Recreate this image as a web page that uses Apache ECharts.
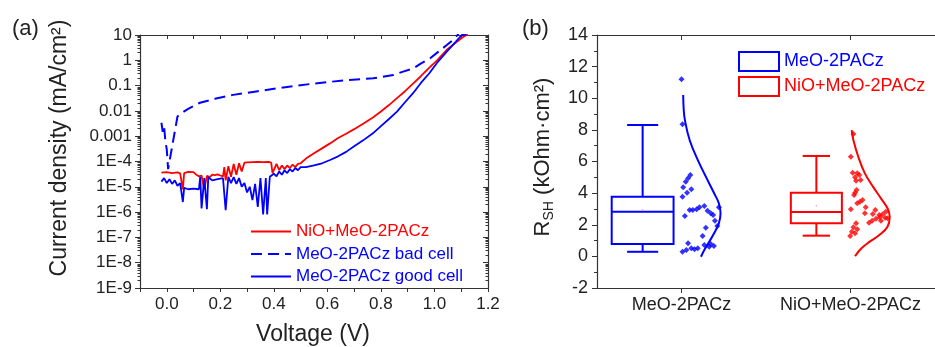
<!DOCTYPE html>
<html><head><meta charset="utf-8">
<script src="https://cdn.jsdelivr.net/npm/echarts@6/dist/echarts.min.js"></script>
<style>html,body{margin:0;padding:0;background:#fff}#c{width:935px;height:347px}</style>
</head><body><div id="c"></div>
<script>
// ---------- Panel (a): J-V curves (log scale) ----------
const voltRed = [-0.02,0.00,0.02,0.04,0.05,0.06,0.065,0.08,0.10,0.11,0.12,0.13,0.14,0.15,0.16,0.17,0.18,0.19,0.20,0.21,0.215,0.22,0.23,0.24,0.25,0.26,0.27,0.28,0.29,0.30,0.32,0.34,0.36,0.38,0.39,0.395,0.40,0.41,0.42,0.43,0.44,0.45,0.46,0.47,0.48,0.49,0.50,0.52,0.55,0.58,0.61,0.64,0.67,0.70,0.735,0.77,0.80,0.83,0.86,0.89,0.92,0.95,0.98,1.01,1.046,1.08,1.108,1.125];
const jRed = [3.6e-5,3.8e-5,3.5e-5,3.7e-5,3.4e-5,8e-6,3.5e-5,3.9e-5,3.8e-5,3.0e-5,2.6e-5,2.8e-5,8e-6,2.7e-5,2.4e-5,3.0e-5,2.9e-5,3.1e-5,2.8e-5,2.6e-5,6e-5,1.8e-5,6.5e-5,2.5e-5,8e-5,3e-5,8.5e-5,4e-5,9e-5,9.2e-5,9.5e-5,9.6e-5,9.4e-5,9.6e-5,9.0e-5,3.5e-5,4e-5,8e-5,4.5e-5,7e-5,5e-5,7e-5,5.5e-5,7.5e-5,6e-5,8e-5,8.5e-5,1.3e-4,2.1e-4,3.3e-4,5.2e-4,8.5e-4,1.25e-3,1.9e-3,3.2e-3,5.5e-3,9.5e-3,1.7e-2,3.2e-2,6e-2,0.12,0.24,0.5,1.0,2.6,5,8.5,10.5];

const voltBad = [-0.02,-0.015,-0.01,-0.005,0.0,0.005,0.04,0.05,0.08,0.124,0.18,0.248,0.34,0.436,0.548,0.672,0.771,0.846,0.88,0.921,0.95,0.984,1.015,1.046,1.07,1.09];
const jBad = [3.4e-3,1.5e-3,2.5e-3,6e-4,3e-4,5e-5,6e-3,7.5e-3,1.2e-2,2.1e-2,3e-2,4.3e-2,6e-2,8.5e-2,0.12,0.165,0.195,0.26,0.35,0.48,0.75,1.2,2.2,4.0,6.5,11];

const voltGood = [-0.02,-0.01,0.00,0.01,0.02,0.03,0.04,0.05,0.06,0.065,0.08,0.10,0.12,0.125,0.13,0.14,0.15,0.155,0.17,0.19,0.21,0.22,0.23,0.24,0.25,0.26,0.27,0.28,0.29,0.30,0.31,0.32,0.33,0.34,0.35,0.36,0.37,0.375,0.385,0.40,0.41,0.42,0.43,0.44,0.45,0.46,0.47,0.48,0.49,0.50,0.52,0.55,0.58,0.61,0.64,0.67,0.70,0.735,0.77,0.80,0.83,0.86,0.89,0.92,0.95,0.98,1.01,1.046,1.08,1.102,1.12];
const jGood = [1.6e-5,2.2e-5,1.4e-5,2.0e-5,1.3e-5,1.8e-5,1.1e-5,1.4e-5,2.5e-6,9e-6,8e-6,8.5e-6,8e-6,2.5e-5,1.4e-6,2.2e-5,1.3e-6,2.4e-5,1.8e-5,2.0e-5,2.2e-5,1.2e-6,2.5e-5,1.4e-5,2.4e-5,1.3e-5,2.2e-5,1.0e-5,1.4e-5,6e-6,1.0e-5,3e-6,1.3e-5,1.6e-6,2.2e-5,8e-7,2.2e-5,8e-7,2.5e-5,3.3e-5,2.6e-5,4e-5,3e-5,4.5e-5,3.5e-5,5e-5,4e-5,5.5e-5,4.5e-5,6e-5,6e-5,7e-5,8.5e-5,1.15e-4,1.6e-4,2.4e-4,4e-4,7e-4,1.3e-3,2.5e-3,4.8e-3,9.3e-3,2.2e-2,5e-2,0.13,0.3,0.8,2.2,5.5,10,10.5];

const seriesNames = ['NiO+MeO-2PACz','MeO-2PACz bad cell','MeO-2PACz good cell'];

// ---------- Panel (b): R_SH statistics ----------
const groups = ['MeO-2PACz','NiO+MeO-2PACz'];
const boxLow  = [0.29, 1.31];
const boxQ1   = [0.78, 2.09];
const boxMed  = [2.82, 2.80];
const boxQ3   = [3.77, 4.03];
const boxHigh = [8.31, 6.35];
const boxMean = [2.95, 3.2];

const blueRsh    = [11.2,8.35,5.15,4.94,4.72,4.37,4.24,4.03,3.77,3.19,3.10,2.98,2.93,2.93,2.89,2.72,2.62,3.10,2.55,2.26,1.92,1.81,1.29,0.83,0.78,0.61,0.72,0.51,0.45,0.51,0.40,0.29,0.65];
const blueJitter = [0.0,0.006,0.052,0.039,0.025,0.01,0.058,0.033,0.006,0.135,0.106,0.09,0.067,0.048,0.154,0.173,0.187,0.221,0.02,0.198,0.212,0.144,0.125,0.039,0.173,0.164,0.135,0.096,0.077,0.058,0.029,0.006,0.192];
const redRsh    = [7.74,6.30,5.29,5.25,5.15,5.0,4.83,4.79,4.20,4.03,3.88,3.56,3.46,3.36,2.98,3.10,2.93,2.72,2.68,2.82,2.66,2.45,2.47,2.38,2.26,2.13,2.26,2.41,2.09,1.84,1.71,1.56,1.46,1.29,2.62];
const redJitter = [0.017,0.002,0.013,0.04,0.052,0.027,0.06,0.033,0.036,0.027,0.021,0.071,0.056,0.04,0.002,0.090,0.147,0.085,0.132,0.209,0.19,0.205,0.174,0.151,0.128,0.11,0.18,0.219,0.033,0.017,0.04,0.008,0.027,-0.002,0.17];

const blueCurveR = [10.2,9.3,8.63,7.36,6.1,5.04,3.99,3.36,2.72,2.09,1.46,0.93,0.40,-0.02];
const blueCurveW = [0.010,0.013,0.020,0.048,0.096,0.144,0.193,0.221,0.231,0.221,0.193,0.164,0.135,0.115];
const redCurveR  = [7.99,7.36,6.30,5.25,4.41,3.67,3.04,2.51,1.88,1.35,0.93,0.51,0.02];
const redCurveW  = [0.007,0.017,0.046,0.085,0.133,0.180,0.219,0.232,0.219,0.171,0.114,0.065,0.027];

// ---------- styling ----------
const FONT = '"Liberation Sans", Arial, sans-serif';
const AX = '#333';
const RED = '#ff0000', BLUE = '#0000ff';
const zip = (a, b) => a.map((v, i) => [v, b[i]]);

const minorLog = [];
for (let e = -9; e < 1; e++) for (let m = 2; m <= 9; m++) minorLog.push(m * Math.pow(10, e));

function logLabel(v) {
  const e = Math.round(Math.log10(v));
  if (e >= 0) return String(Math.pow(10, e));
  if (e >= -3) return Math.pow(10, e).toFixed(-e);
  return '1E' + e;
}

const boxLayout = [
  {off: -0.23, half: 0.183, cap: 0.092, color: BLUE},
  {off: -0.202, half: 0.151, cap: 0.081, color: RED}
];
function boxRender(gi) {
  return function (params, api) {
    const L = boxLayout[gi];
    const c = api.value(0) + L.off;
    const P = (dx, v) => api.coord([c + dx, v]);
    const st = {stroke: L.color, lineWidth: 2, fill: null};
    const lo = P(0, api.value(1)), q1 = P(0, api.value(2)), md = P(0, api.value(3)),
          q3 = P(0, api.value(4)), hi = P(0, api.value(5)), mn = P(0, api.value(6));
    const xl = P(-L.half, 0)[0], xr = P(L.half, 0)[0];
    const cl = P(-L.cap, 0)[0], cr = P(L.cap, 0)[0];
    return {type: 'group', children: [
      {type: 'line', shape: {x1: lo[0], y1: lo[1], x2: q1[0], y2: q1[1]}, style: st},
      {type: 'line', shape: {x1: q3[0], y1: q3[1], x2: hi[0], y2: hi[1]}, style: st},
      {type: 'line', shape: {x1: cl, y1: lo[1], x2: cr, y2: lo[1]}, style: st},
      {type: 'line', shape: {x1: cl, y1: hi[1], x2: cr, y2: hi[1]}, style: st},
      {type: 'rect', shape: {x: xl, y: q3[1], width: xr - xl, height: q1[1] - q3[1]}, style: st},
      {type: 'line', shape: {x1: xl, y1: md[1], x2: xr, y2: md[1]}, style: st},
      {type: 'circle', shape: {cx: mn[0], cy: mn[1], r: 0.8}, style: {fill: '#f99'}}
    ]};
  };
}

const chart = echarts.init(document.getElementById('c'), null, {renderer: 'canvas'});
const axLine = {show: true, onZero: false, lineStyle: {color: AX, width: 1.2}};
const noLine = {show: false, onZero: false};
const hideSym = {color: 'rgba(0,0,0,0)', borderWidth: 0, opacity: 0};
const option = {
  animation: false,
  backgroundColor: '#fff',
  textStyle: {fontFamily: FONT},
  grid: [
    {left: 140, top: 35, width: 348, height: 253},
    {left: 597, top: 35, width: 347, height: 253}
  ],
  xAxis: [
    {gridIndex: 0, type: 'value', min: -0.1, max: 1.2, interval: 0.1, position: 'bottom',
     axisLine: axLine, axisTick: {length: 4, lineStyle: {color: AX}}, splitLine: {show: false},
     axisLabel: {fontSize: 17, color: '#222', margin: 8, fontFamily: FONT,
       formatter: v => { const k = Math.round(v * 10); return (k >= 0 && k % 2 === 0) ? (k / 10).toFixed(1) : ''; }}},
    {gridIndex: 0, type: 'value', min: -0.1, max: 1.2, interval: 0.1, position: 'top',
     axisLine: axLine, axisTick: {inside: true, length: 4, lineStyle: {color: AX}}, splitLine: {show: false},
     axisLabel: {show: false}},
    {gridIndex: 1, type: 'value', min: 0.5, max: 2.5, position: 'bottom',
     axisLine: axLine, axisTick: {length: 5, customValues: [1, 2], lineStyle: {color: AX}}, splitLine: {show: false},
     axisLabel: {customValues: [1, 2], fontSize: 18, color: '#222', margin: 8, fontFamily: FONT,
       formatter: v => groups[Math.round(v) - 1]}},
    {gridIndex: 1, type: 'value', min: 0.5, max: 2.5, position: 'top',
     axisLine: axLine, axisTick: {inside: true, length: 5, customValues: [1, 2], lineStyle: {color: AX}}, splitLine: {show: false},
     axisLabel: {show: false}}
  ],
  yAxis: [
    {gridIndex: 0, type: 'log', logBase: 10, min: 1e-9, max: 10, splitNumber: 10, position: 'left',
     axisLine: axLine, axisTick: {length: 5, lineStyle: {color: AX}}, splitLine: {show: false},
     axisLabel: {fontSize: 17, color: '#222', margin: 8, fontFamily: FONT, formatter: logLabel}},
    {gridIndex: 0, type: 'log', logBase: 10, min: 1e-9, max: 10, splitNumber: 10, position: 'right',
     axisLine: axLine, axisTick: {inside: true, length: 5, lineStyle: {color: AX}}, splitLine: {show: false},
     axisLabel: {show: false}},
    {gridIndex: 0, type: 'log', logBase: 10, min: 1e-9, max: 10, position: 'left',
     axisLine: noLine, axisTick: {length: 2.5, customValues: minorLog, lineStyle: {color: AX}}, splitLine: {show: false},
     axisLabel: {show: false}},
    {gridIndex: 0, type: 'log', logBase: 10, min: 1e-9, max: 10, position: 'right',
     axisLine: noLine, axisTick: {inside: true, length: 2.5, customValues: minorLog, lineStyle: {color: AX}}, splitLine: {show: false},
     axisLabel: {show: false}},
    {gridIndex: 1, type: 'value', min: -2, max: 14, interval: 2, position: 'left',
     axisLine: axLine, axisTick: {length: 5, lineStyle: {color: AX}},
     minorTick: {show: true, splitNumber: 2, length: 3, lineStyle: {color: AX}},
     splitLine: {show: false}, minorSplitLine: {show: false},
     axisLabel: {fontSize: 18, color: '#222', margin: 9, fontFamily: FONT}}
  ],
  legend: [
    {left: 250, top: 223, orient: 'vertical', itemWidth: 40, itemHeight: 12, itemGap: 5.5, padding: 0,
     selectedMode: false, textStyle: {fontSize: 17, fontFamily: FONT},
     data: [
       {name: seriesNames[0], itemStyle: hideSym, textStyle: {color: RED}},
       {name: seriesNames[1], itemStyle: hideSym, textStyle: {color: BLUE}},
       {name: seriesNames[2], itemStyle: hideSym, textStyle: {color: BLUE}}
     ]},
    {left: 738, top: 51, orient: 'vertical', itemWidth: 40, itemHeight: 19, itemGap: 4, padding: 0,
     selectedMode: false, textStyle: {fontSize: 18, fontFamily: FONT},
     formatter: n => n.replace('box:', ''),
     data: [
       {name: 'box:' + groups[0], icon: 'rect', itemStyle: {color: 'rgba(0,0,0,0)', borderColor: BLUE, borderWidth: 2}, textStyle: {color: BLUE}},
       {name: 'box:' + groups[1], icon: 'rect', itemStyle: {color: 'rgba(0,0,0,0)', borderColor: RED, borderWidth: 2}, textStyle: {color: RED}}
     ]}
  ],
  series: [
    {name: seriesNames[0], type: 'line', xAxisIndex: 0, yAxisIndex: 0, symbol: 'none', color: RED,
     lineStyle: {color: RED, width: 1.8}, data: zip(voltRed, jRed)},
    {name: seriesNames[1], type: 'line', xAxisIndex: 0, yAxisIndex: 0, symbol: 'none', color: BLUE,
     lineStyle: {color: BLUE, width: 2, type: [11, 6]}, data: zip(voltBad, jBad)},
    {name: seriesNames[2], type: 'line', xAxisIndex: 0, yAxisIndex: 0, symbol: 'none', color: BLUE,
     lineStyle: {color: BLUE, width: 1.8}, data: zip(voltGood, jGood)},
    {name: 'box:' + groups[0], type: 'custom', xAxisIndex: 2, yAxisIndex: 4, color: BLUE, renderItem: boxRender(0),
     data: [[1, boxLow[0], boxQ1[0], boxMed[0], boxQ3[0], boxHigh[0], boxMean[0]]]},
    {name: 'box:' + groups[1], type: 'custom', xAxisIndex: 2, yAxisIndex: 4, color: RED, renderItem: boxRender(1),
     data: [[2, boxLow[1], boxQ1[1], boxMed[1], boxQ3[1], boxHigh[1], boxMean[1]]]},
    {type: 'scatter', xAxisIndex: 2, yAxisIndex: 4, symbol: 'diamond', symbolSize: 6, itemStyle: {color: BLUE},
     data: blueRsh.map((v, i) => [1 + blueJitter[i], v])},
    {type: 'scatter', xAxisIndex: 2, yAxisIndex: 4, symbol: 'diamond', symbolSize: 6, itemStyle: {color: RED},
     data: redRsh.map((v, i) => [2 + redJitter[i], v])},
    {type: 'line', xAxisIndex: 2, yAxisIndex: 4, symbol: 'none', smooth: 0.4, lineStyle: {color: BLUE, width: 2},
     data: blueCurveR.map((v, i) => [1 + blueCurveW[i], v])},
    {type: 'line', xAxisIndex: 2, yAxisIndex: 4, symbol: 'none', smooth: 0.4, lineStyle: {color: RED, width: 2},
     data: redCurveR.map((v, i) => [2 + redCurveW[i], v])}
  ],
  graphic: [
    {type: 'text', x: 12, y: 29, style: {text: '(a)', font: '22px ' + FONT, fill: '#222', verticalAlign: 'middle'}},
    {type: 'text', x: 522, y: 29, style: {text: '(b)', font: '22px ' + FONT, fill: '#222', verticalAlign: 'middle'}},
    {type: 'text', x: 60, y: 148, rotation: Math.PI / 2,
     style: {text: 'Current density (mA/cm²)', font: '23px ' + FONT, fill: '#222', align: 'center', verticalAlign: 'middle'}},
    {type: 'text', x: 313, y: 335,
     style: {text: 'Voltage (V)', font: '23px ' + FONT, fill: '#222', align: 'center', verticalAlign: 'middle'}},
    {type: 'text', x: 544, y: 157, rotation: Math.PI / 2,
     style: {text: '{r|R}{s|SH}{r| (kOhm·cm²)}', fill: '#222', align: 'center', verticalAlign: 'middle',
       rich: {
         r: {fontSize: 22, fontFamily: FONT, fill: '#222', color: '#222', verticalAlign: 'bottom', padding: [0, 0, 3, 0]},
         s: {fontSize: 14, fontFamily: FONT, fill: '#222', color: '#222', verticalAlign: 'bottom'}
       }}}
  ]
};
chart.setOption(option);
</script>
</body></html>
